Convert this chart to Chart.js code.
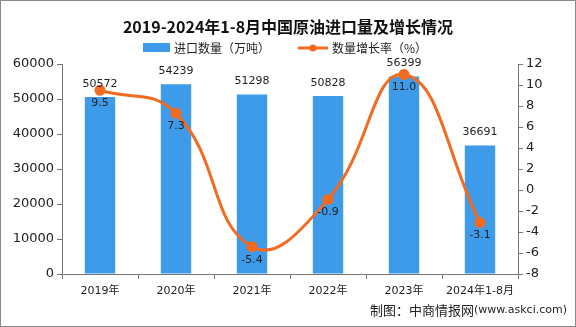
<!DOCTYPE html>
<html>
<head>
<meta charset="utf-8">
<script src="https://cdn.jsdelivr.net/npm/chart.js@4"></script>
<style>
  html, body { margin: 0; padding: 0; background: #fff; }
  #wrap { width: 576px; height: 327px; position: relative; box-sizing: border-box; border: 1px solid #888; }
</style>
</head>
<body>
<div id="wrap"><canvas id="myChart" width="574" height="325"></canvas></div>
<script>
const years = ["2019年", "2020年", "2021年", "2022年", "2023年", "2024年1-8月"];
const importVolume = [50572, 54239, 51298, 50828, 56399, 36691];
const growthRate = [9.5, 7.3, -5.4, -0.9, 11.0, -3.1];

const titleText = "2019-2024年1-8月中国原油进口量及增长情况";
const barLabel = "进口数量（万吨）";
const lineLabel = "数量增长率（%）";
const sourceText = "制图：中商情报网";
const sourceUrl = "(www.askci.com)";

const blue = "#3d9be9";
const orange = "#f26b21";
const fontFam = "'DejaVu Sans', 'Noto Sans CJK SC', sans-serif";

// title, legend, footer and value labels
const extras = {
	id: "extras",
	afterDatasetsDraw(chart) {
		const c = chart.ctx;
		c.save();
		c.textAlign = "center";
		c.textBaseline = "middle";

		c.font = "11px " + fontFam;
		c.fillStyle = "#222";
		// bar values above bars (dataset 1)
		chart.getDatasetMeta(1).data.forEach(function(bar, i) {
			c.fillText(importVolume[i], bar.x, bar.y - 13);
		});
		// line values under points (dataset 0)
		chart.getDatasetMeta(0).data.forEach(function(pt, i) {
			c.fillText(growthRate[i].toFixed(1), pt.x, pt.y + 13);
		});

		// title
		c.font = "bold 16px 'Noto Sans CJK SC', serif";
		c.fillStyle = "#111";
		c.fillText(titleText, 287, 26);

		// legend
		c.font = "12px 'Noto Sans CJK SC', sans-serif";
		c.textAlign = "left";
		c.fillStyle = blue;
		c.fillRect(142, 42, 27, 9);
		c.fillStyle = "#222";
		c.fillText(barLabel, 173, 47);
		c.strokeStyle = orange;
		c.lineWidth = 3;
		c.beginPath();
		c.moveTo(297, 47);
		c.lineTo(327, 47);
		c.stroke();
		c.fillStyle = orange;
		c.beginPath();
		c.arc(312, 47, 3.5, 0, Math.PI * 2);
		c.fill();
		c.fillStyle = "#222";
		c.fillText(lineLabel, 331, 47);

		// source
		c.textAlign = "right";
		c.font = "11px " + fontFam;
		const w = c.measureText(sourceUrl).width;
		c.fillText(sourceUrl, 566, 309);
		c.font = "13px 'Noto Sans CJK SC', sans-serif";
		c.fillText(sourceText, 566 - w, 309);
		c.restore();
	}
};

const ctx = document.getElementById("myChart").getContext("2d");
const myChart = new Chart(ctx, {
	data: {
		labels: years,
		datasets: [
			{
				type: "line",
				label: lineLabel,
				data: growthRate,
				yAxisID: "yR",
				borderColor: orange,
				backgroundColor: orange,
				borderWidth: 3,
				pointRadius: 4,
				pointHoverRadius: 4,
				tension: 0.45,
				order: 0
			},
			{
				type: "bar",
				label: barLabel,
				data: importVolume,
				yAxisID: "yL",
				backgroundColor: blue,
				barPercentage: 0.4,
				categoryPercentage: 1,
				order: 1
			}
		]
	},
	options: {
		responsive: false,
		animation: false,
		layout: { padding: { top: 63, left: 0, right: 0, bottom: 0 } },
		plugins: { legend: { display: false }, title: { display: false }, tooltip: { enabled: false } },
		scales: {
			x: {
				offset: true,
				grid: { display: true, drawOnChartArea: false, offset: true, color: "#777", tickLength: 5 },
				border: { color: "#777" },
				ticks: { color: "#222", font: { size: 11, family: fontFam }, maxRotation: 0, autoSkip: false, padding: 6 },
				afterFit(s) { s.height = 52; }
			},
			yL: {
				position: "left",
				min: 0, max: 60000,
				ticks: {
					stepSize: 10000, color: "#222", font: { size: 13, family: fontFam }, padding: 3,
					callback: function(v) { return String(v); }
				},
				grid: { drawOnChartArea: false, color: "#777", tickLength: 5 },
				border: { color: "#777" },
				afterFit(s) { s.width = 61; }
			},
			yR: {
				position: "right",
				min: -8, max: 12,
				ticks: { stepSize: 2, color: "#222", font: { size: 13, family: fontFam }, padding: 3 },
				grid: { drawOnChartArea: false, color: "#777", tickLength: 5 },
				border: { color: "#777" },
				afterFit(s) { s.width = 57; }
			}
		}
	},
	plugins: [extras]
});
</script>
</body>
</html>
